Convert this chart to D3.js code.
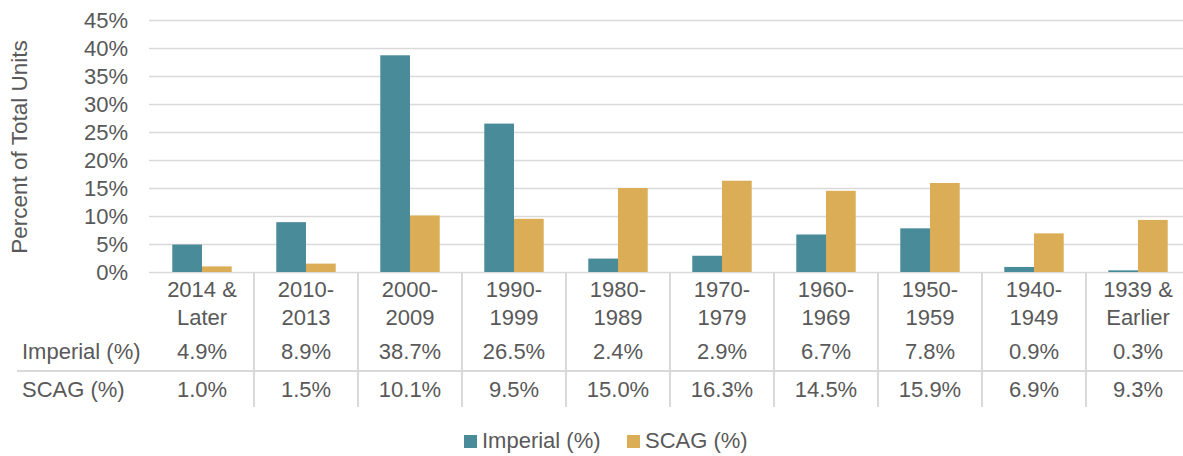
<!DOCTYPE html>
<html>
<head>
<meta charset="utf-8">
<script src="https://cdn.jsdelivr.net/npm/d3@7"></script>
<style>
  body { margin: 0; background: #fff; }
  text { font-family: "Liberation Sans", Arial, sans-serif; fill: #595959; }
</style>
</head>
<body>
<svg id="chart" width="1183" height="456"></svg>
<script>
// categories, each label split over two lines like the original table
const categories = [
  ['2014 &', 'Later'], ['2010-', '2013'], ['2000-', '2009'], ['1990-', '1999'],
  ['1980-', '1989'], ['1970-', '1979'], ['1960-', '1969'], ['1950-', '1959'],
  ['1940-', '1949'], ['1939 &', 'Earlier']
];
const seriesNames = ['Imperial (%)', 'SCAG (%)'];
const imperial = [4.9, 8.9, 38.7, 26.5, 2.4, 2.9, 6.7, 7.8, 0.9, 0.3];
const scag = [1.0, 1.5, 10.1, 9.5, 15.0, 16.3, 14.5, 15.9, 6.9, 9.3];
const yTicks = [0, 5, 10, 15, 20, 25, 30, 35, 40, 45];

const colors = { 'Imperial (%)': '#4a8b9a', 'SCAG (%)': '#dbad57' };
const grid = '#d9d9d9';

const svg = d3.select('#chart');
const keys = categories.map(c => c.join(' '));
const data = keys.map((k, i) => ({ key: k, values: [imperial[i], scag[i]] }));

const x0 = d3.scaleBand().domain(keys).range([150, 1190]).padding(0);
const x1 = d3.scaleBand().domain(seriesNames).range([0, x0.bandwidth()])
  .paddingInner(0).paddingOuter(0.75);
const y = d3.scaleLinear().domain([0, 45]).range([272, 20]);

// gridlines + y tick labels
const yAxis = svg.append('g').attr('transform', 'translate(149,0)')
  .call(d3.axisLeft(y).tickValues(yTicks).tickSize(-1040).tickPadding(21)
    .tickFormat(d => d + '%'));
yAxis.select('.domain').remove();
yAxis.selectAll('line').attr('stroke', grid).attr('stroke-width', 1.5);
yAxis.selectAll('text').attr('font-size', 22).style('fill', '#595959')
  .style('font-family', '"Liberation Sans", Arial, sans-serif');

svg.append('text')
  .attr('transform', 'translate(27,147) rotate(-90)')
  .attr('text-anchor', 'middle')
  .attr('font-size', 22.5)
  .text('Percent of Total Units');

// bars
const groups = svg.append('g').selectAll('g').data(data).join('g')
  .attr('transform', d => `translate(${x0(d.key)},0)`);
groups.selectAll('rect')
  .data(d => d.values.map((v, j) => ({ name: seriesNames[j], v })))
  .join('rect')
  .attr('x', d => x1(d.name))
  .attr('y', d => y(d.v))
  .attr('width', x1.bandwidth())
  .attr('height', d => y(0) - y(d.v))
  .attr('fill', d => colors[d.name]);

// data table lines
svg.append('g').selectAll('line').data(keys.slice(1)).join('line')
  .attr('x1', d => x0(d)).attr('x2', d => x0(d))
  .attr('y1', 272).attr('y2', 407)
  .attr('stroke', grid).attr('stroke-width', 2);
svg.append('line').attr('x1', 17).attr('x2', 1190).attr('y1', 371).attr('y2', 371)
  .attr('stroke', grid).attr('stroke-width', 2);

// category labels
const catG = svg.append('g').selectAll('text').data(categories).join('text')
  .attr('text-anchor', 'middle').attr('font-size', 22)
  .attr('x', (d, i) => x0(keys[i]) + x0.bandwidth() / 2);
catG.selectAll('tspan').data(d => d).join('tspan')
  .attr('x', function () { return this.parentNode.getAttribute('x'); })
  .attr('y', (d, j) => j === 0 ? 297 : 325)
  .text(d => d);

// table rows
const rows = [imperial, scag];
const rowY = [359, 397];
rows.forEach((vals, r) => {
  svg.append('text').attr('x', 22).attr('y', rowY[r]).attr('font-size', 22)
    .text(seriesNames[r]);
  svg.append('g').selectAll('text').data(vals).join('text')
    .attr('x', (d, i) => x0(keys[i]) + x0.bandwidth() / 2)
    .attr('y', rowY[r])
    .attr('text-anchor', 'middle').attr('font-size', 22)
    .text(d => d.toFixed(1) + '%');
});

// legend
const legendX = [464, 627];
const legend = svg.append('g').selectAll('g').data(seriesNames).join('g')
  .attr('transform', (d, i) => `translate(${legendX[i]},435)`);
legend.append('rect').attr('width', 13).attr('height', 13).attr('fill', d => colors[d]);
legend.append('text').attr('x', 18).attr('y', 13).attr('font-size', 22).text(d => d);
</script>
</body>
</html>
